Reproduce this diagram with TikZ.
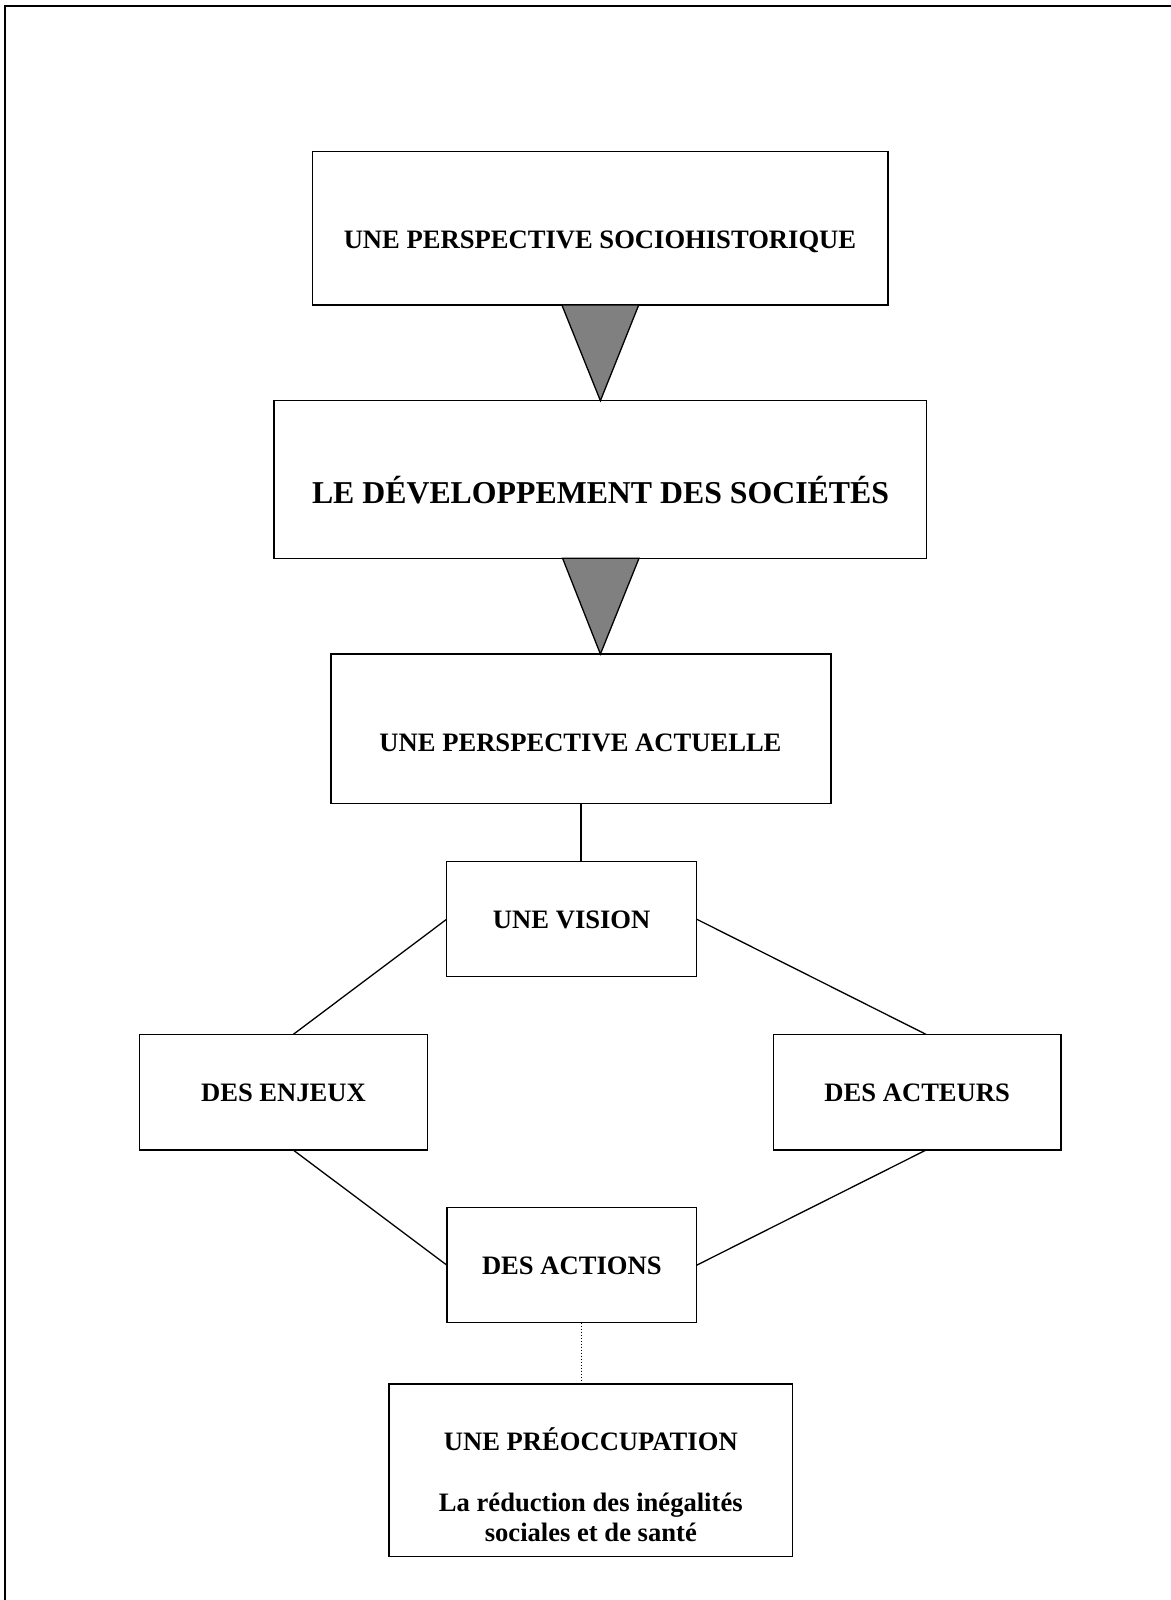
\documentclass[tikz,border=0pt]{standalone}
\usepackage{fontspec}
\setmainfont{Liberation Serif}
\begin{document}
\begin{tikzpicture}[x=1pt,y=-1pt,
  box/.style={draw=black,line width=1.3pt,rectangle,inner sep=0pt,outer sep=0pt},
  lbl/.style={anchor=base,inner sep=0pt,font=\bfseries\fontsize{26.6}{30.5}\selectfont},
  biglbl/.style={anchor=base,inner sep=0pt,font=\bfseries\fontsize{31.8}{36}\selectfont},
  link/.style={draw=black,line width=1.3pt},
  dotlink/.style={draw=black,line width=1pt,dotted},
  tri/.style={fill=black!50,draw=black,line width=1.3pt,line join=miter}]
\useasboundingbox (0,0) rectangle (1170,1600);
\fill[white] (-2,-2) rectangle (1172,1602);
% outer frame (top and left edges)
\draw[line width=2pt] (5,1602) -- (5,6) -- (1172,6);
% boxes
\node[box,minimum width=575.7pt,minimum height=153.3pt] (b1) at (600.2,228.4) {};
\node[box,minimum width=652.7pt,minimum height=157.6pt] (b2) at (600.4,479.5) {};
\node[box,minimum width=500pt,minimum height=149.3pt] (b3) at (581,728.7) {};
\node[box,minimum width=250pt,minimum height=115pt] (vis) at (571.7,919.2) {};
\node[box,minimum width=288.4pt,minimum height=115.7pt] (enj) at (283.5,1092.2) {};
\node[box,minimum width=287.7pt,minimum height=115.7pt] (act) at (917.2,1092.2) {};
\node[box,minimum width=249.7pt,minimum height=115pt] (acn) at (571.8,1265.2) {};
\node[box,minimum width=403.7pt,minimum height=172.7pt] (pre) at (590.8,1470.3) {};
% texts
\node[lbl] (t1) at (600,248.3) {UNE PERSPECTIVE SOCIOHISTORIQUE};
\node[biglbl] (t2) at (600.5,503) {LE DÉVELOPPEMENT DES SOCIÉTÉS};
\node[lbl] (t3) at (580.5,751.7) {UNE PERSPECTIVE ACTUELLE};
\node[lbl] (tv) at (571.7,928.8) {UNE VISION};
\node[lbl] (te) at (283.5,1101) {DES ENJEUX};
\node[lbl] (ta) at (917.2,1101) {DES ACTEURS};
\node[lbl] (tac) at (571.8,1274) {DES ACTIONS};
\node[lbl] (tp1) at (590.8,1450) {UNE PRÉOCCUPATION};
\node[lbl] (tp2) at (590.8,1511) {La réduction des inégalités};
\node[lbl] (tp3) at (590.8,1541.5) {sociales et de santé};
% triangles
\draw[tri] ([xshift=-38.3pt]b1.south) -- ([xshift=38.5pt]b1.south) -- (b2.north) -- cycle;
\draw[tri] ([xshift=-37.8pt]b2.south) -- ([xshift=38.6pt]b2.south) -- (b3.north -| b2.south) -- cycle;
% connectors
\draw[link] (b3.south) -- (b3.south |- vis.north);
\draw[link] (vis.west) -- ([xshift=9.8pt]enj.north);
\draw[link] (vis.east) -- ([xshift=8.8pt]act.north);
\draw[link] ([xshift=9.8pt]enj.south) -- (acn.west);
\draw[link] ([xshift=8.8pt]act.south) -- (acn.east);
\draw[dotlink] (b3.south |- acn.south) -- (b3.south |- pre.north);
\end{tikzpicture}
\end{document}
